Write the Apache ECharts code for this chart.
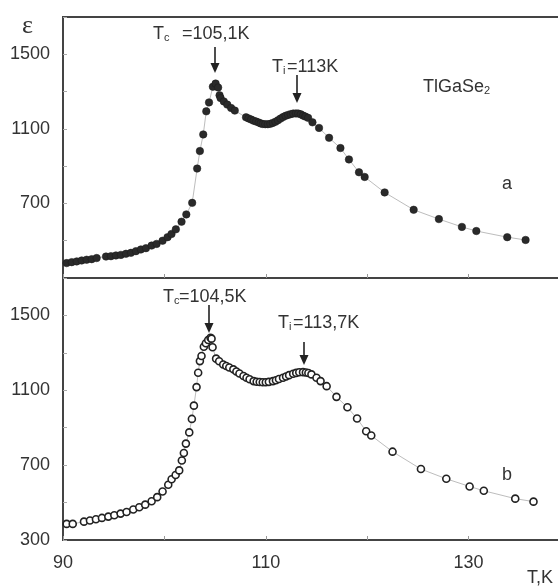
<!DOCTYPE html>
<html>
<head>
<meta charset="utf-8">
<script src="https://cdn.jsdelivr.net/npm/echarts@6/dist/echarts.min.js"></script>
<style>
html,body{margin:0;padding:0;background:#fff;}
#chart{width:558px;height:587px;}
</style>
</head>
<body>
<div id="chart"></div>
<script>
// Panel (a): filled circles
var aT = [90.36,90.86,91.35,91.84,92.33,92.83,93.32,94.24,94.73,95.22,95.71,96.21,96.70,97.19,97.68,98.18,98.74,99.23,99.82,100.31,100.70,101.13,101.69,102.16,102.74,103.23,103.50,103.83,104.13,104.40,104.78,105.05,105.30,105.44,105.54,105.86,106.20,106.58,106.94,108.05,108.30,108.56,108.80,109.05,109.30,109.50,109.71,109.95,110.20,110.45,110.69,110.95,111.20,111.45,111.70,111.95,112.20,112.45,112.70,112.97,113.20,113.45,113.67,113.90,114.17,114.60,115.25,116.24,117.36,118.20,119.19,119.75,121.72,124.58,127.07,129.34,130.76,133.81,135.62];
var aEps = [380,385,389,394,398,401,407,415,417,421,424,430,435,444,453,460,474,483,500,519,536,561,602,641,703,887,981,1070,1194,1242,1326,1343,1322,1280,1265,1247,1230,1212,1198,1162,1156,1150,1144,1139,1134,1129,1126,1125,1125,1127,1132,1138,1146,1155,1163,1170,1175,1179,1182,1183,1182,1178,1171,1166,1159,1135,1105,1052,997,936,867,842,759,666,616,574,552,519,504];
// Panel (b): open circles
var bT = [90.36,90.96,92.07,92.66,93.25,93.84,94.47,95.06,95.68,96.27,96.93,97.52,98.11,98.74,99.29,99.82,100.38,100.71,101.11,101.46,101.72,101.92,102.12,102.45,102.71,102.91,103.17,103.33,103.50,103.66,103.89,104.09,104.32,104.55,104.65,104.75,105.10,105.40,105.80,106.10,106.40,106.80,107.10,107.40,107.80,108.10,108.40,108.80,109.10,109.40,109.70,110.00,110.30,110.70,111.00,111.30,111.70,112.00,112.30,112.70,113.00,113.30,113.67,113.95,114.20,114.50,115.00,115.40,116.00,116.97,118.05,119.00,119.90,120.40,122.50,125.30,127.80,130.10,131.50,134.60,136.40];
var bEps = [386,386,398,404,411,418,425,432,441,450,463,475,489,507,529,559,595,625,647,672,725,765,815,875,947,1018,1117,1194,1256,1283,1333,1351,1369,1381,1376,1330,1269,1255,1238,1230,1222,1212,1200,1190,1176,1167,1159,1149,1146,1144,1143,1143,1145,1149,1154,1160,1167,1174,1181,1188,1193,1196,1197,1195,1192,1185,1167,1149,1122,1065,1009,949,881,858,772,679,627,586,563,521,505];
// Axis settings
var xMin = 90, xMax = 140, xStep = 10;
var xLabelVals = [90, 110, 130];
var yMin = 300, yMax = 1700, yStep = 200;
var yLabelsTop = [700, 1100, 1500];
var yLabelsBottom = [300, 700, 1100, 1500];

function pairs(xs, ys){ return xs.map(function(x,i){ return [x, ys[i]]; }); }

var FONT = 'Liberation Sans, Arial, sans-serif';
var TXT = '#333';
var AX = '#444';

function xAxisCfg(idx, showLabels){
  return {
    type:'value', gridIndex: idx, min:xMin, max:xMax, interval:xStep,
    axisLine:{show:true, onZero:false, lineStyle:{color:AX, width:2}},
    axisTick:{show:true, inside:true, length:4, lineStyle:{color:'#999', width:1}},
    axisLabel:{show:showLabels, margin:14, fontSize:18, fontFamily:FONT, color:TXT,
      formatter:function(v){ return xLabelVals.indexOf(v) >= 0 ? String(v) : ''; }},
    splitLine:{show:false}
  };
}
function yAxisCfg(idx, labels){
  return {
    type:'value', gridIndex: idx, min:yMin, max:yMax, interval:yStep,
    axisLine:{show:true, lineStyle:{color:AX, width:2}},
    axisTick:{show:true, inside:true, length:4, lineStyle:{color:'#aaa', width:1}},
    axisLabel:{margin:13, fontSize:18, fontFamily:FONT, color:TXT,
      formatter:function(v){ return labels.indexOf(v) >= 0 ? String(v) : ''; }},
    splitLine:{show:false}
  };
}

function txt(x, y, s, size, extra){
  var st = {text:s, x:0, y:0, fontSize:size, fontFamily:FONT, fill:TXT,
    textAlign:'left', textVerticalAlign:'middle', align:'left', verticalAlign:'middle'};
  if (extra) for (var k in extra) st[k] = extra[k];
  return {type:'text', x:x, y:y, style:st, z:100};
}
function arrow(x, y1, y2){
  return [
    {type:'line', shape:{x1:x, y1:y1, x2:x, y2:y2-8}, style:{stroke:'#222', lineWidth:1.6}, z:100},
    {type:'polygon', shape:{points:[[x-4.5,y2-10],[x+4.5,y2-10],[x,y2]]}, style:{fill:'#222'}, z:100}
  ];
}

var graphics = [
  txt(22, 26, 'ε', 26, {fontFamily:'Liberation Serif, DejaVu Serif, serif'}),
  // top annotations
  txt(153, 34, 'T', 18), txt(164, 38, 'c', 11), txt(182, 34, '=105,1K', 18),
  txt(272, 67, 'T', 18), txt(283, 71, 'i', 11), txt(287, 67, '=113K', 18),
  txt(423, 87, 'TlGaSe', 18), txt(484, 91, '2', 11),
  txt(502, 184, 'a', 18),
  // bottom annotations
  txt(163, 297, 'T', 18), txt(174, 301, 'c', 11), txt(179, 297, '=104,5K', 18),
  txt(278, 323, 'T', 18), txt(289, 327, 'i', 11), txt(293, 323, '=113,7K', 18),
  txt(502, 475, 'b', 18),
  txt(527, 578, 'T,K', 18)
].concat(arrow(215, 47, 73), arrow(297, 75, 103), arrow(209, 305, 333), arrow(304, 342, 365));

var chart = echarts.init(document.getElementById('chart'), null, {renderer:'canvas'});
chart.setOption({
  backgroundColor:'#fff',
  animation:false,
  grid:[
    {left:63, top:17, width:507, height:261, show:true, borderColor:AX, borderWidth:2, backgroundColor:'transparent', outerBoundsMode:'none', containLabel:false},
    {left:63, top:278, width:507, height:262, show:true, borderColor:AX, borderWidth:2, backgroundColor:'transparent', outerBoundsMode:'none', containLabel:false}
  ],
  xAxis:[xAxisCfg(0, false), xAxisCfg(1, true)],
  yAxis:[yAxisCfg(0, yLabelsTop), yAxisCfg(1, yLabelsBottom)],
  series:[
    {type:'line', xAxisIndex:0, yAxisIndex:0, data:pairs(aT, aEps),
      symbol:'circle', symbolSize:7.5, showAllSymbol:true,
      lineStyle:{color:'#bdbdbd', width:1},
      itemStyle:{color:'#2a2a2a', borderColor:'#1a1a1a', borderWidth:0.5}},
    {type:'line', xAxisIndex:1, yAxisIndex:1, data:pairs(bT, bEps),
      symbol:'circle', symbolSize:7, showAllSymbol:true,
      lineStyle:{color:'#bdbdbd', width:1},
      itemStyle:{color:'#fff', borderColor:'#222', borderWidth:1.6}}
  ],
  graphic:graphics
});
</script>
</body>
</html>
